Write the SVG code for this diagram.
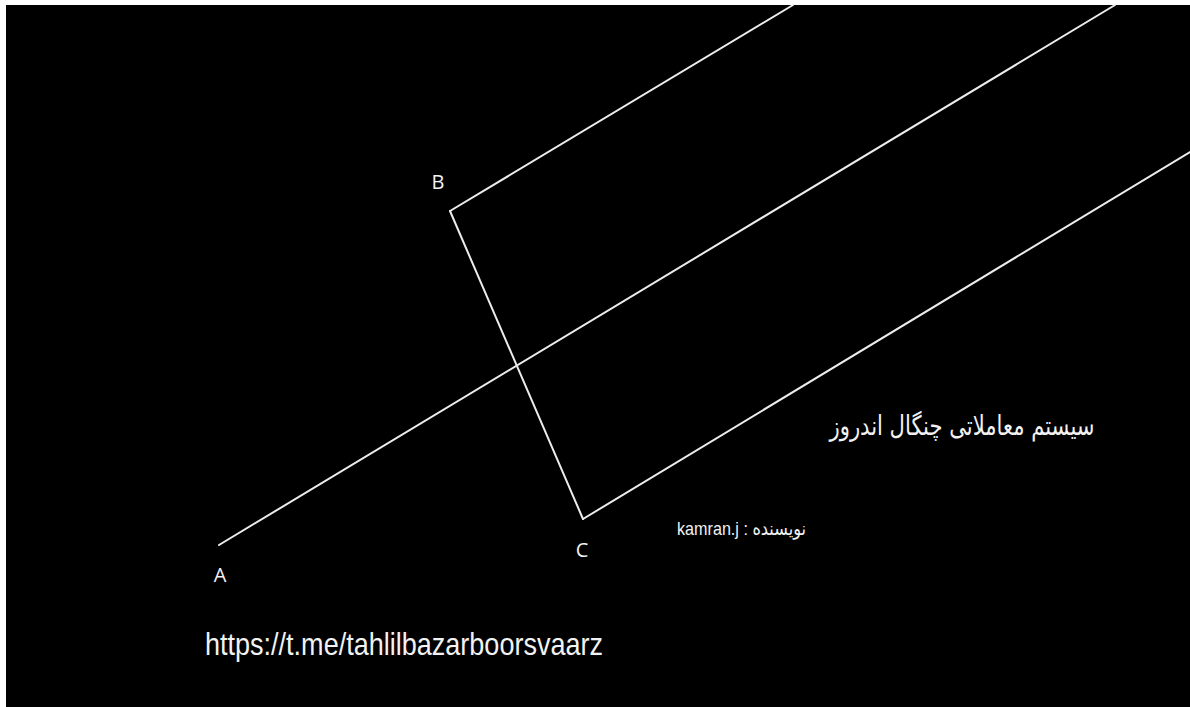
<svg xmlns="http://www.w3.org/2000/svg" width="1190" height="707" viewBox="0 0 1190 707">
<style>
.ln{stroke:#ececec;stroke-width:2;fill:none;stroke-linecap:round}
.lbl{fill:#f2f2f2;font-family:"Open Sans","Liberation Sans",sans-serif;font-size:20px}
.txt{fill:#f2f2f2;font-family:"Liberation Sans","DejaVu Sans",Arial,sans-serif}
.fa{fill:#f2f2f2;font-family:"DejaVu Sans","Noto Sans",sans-serif}
</style>
<rect x="0" y="0" width="1190" height="707" fill="#ffffff"/>
<rect x="6" y="5" width="1184" height="702" fill="#000000"/>
<g id="connectors">
<line class="ln" x1="450" y1="211" x2="793" y2="5"/>
<line class="ln" x1="450" y1="211" x2="583" y2="519"/>
<line class="ln" x1="583" y1="519" x2="1190" y2="152"/>
<line class="ln" x1="219" y1="545" x2="1115" y2="5"/>
</g>
<g id="A"><text class="lbl" x="220" y="582" text-anchor="middle">A</text></g>
<g id="B"><text class="lbl" x="438" y="189" text-anchor="middle">B</text></g>
<g id="C"><text class="lbl" x="582" y="557" text-anchor="middle">C</text></g>
<g id="title"><text class="fa" x="962" y="435" font-size="27" text-anchor="middle" textLength="265" lengthAdjust="spacingAndGlyphs">سیستم معاملاتی چنگال اندروز</text></g>
<g id="author"><text class="txt" x="677" y="535" font-size="19" textLength="129" lengthAdjust="spacingAndGlyphs">kamran.j : نویسنده</text></g>
<g id="url"><text class="txt" x="205" y="655" font-size="32" textLength="398" lengthAdjust="spacingAndGlyphs">https://t.me/tahlilbazarboorsvaarz</text></g>
</svg>
